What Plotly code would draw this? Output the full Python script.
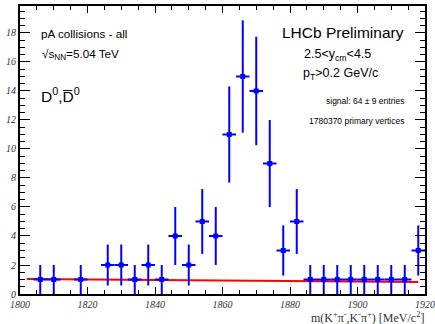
import numpy as np
import plotly.graph_objects as go

# Data
mass = [1806, 1810, 1818, 1826, 1830, 1834, 1838, 1842, 1846, 1850, 1854, 1858,
        1862, 1866, 1870, 1874, 1878, 1882, 1886, 1890, 1894, 1898, 1902, 1906,
        1910, 1914, 1918]
counts = [1, 1, 1, 2, 2, 1, 2, 1, 4, 2, 5, 4,
          11, 15, 14, 9, 3, 5, 1, 1, 1, 1, 1, 1,
          1, 1, 3]
bin_half_width = 2
fit_x = [1802, 1918]
fit_y = [1.03, 0.82]

yerr = [float(np.sqrt(c)) for c in counts]

W, H = 435, 324
L, R, T, B = 20, 10, 6, 30
pw, ph = W - L - R, H - T - B

def px(x):
    return (x - L) / pw

def py(y):
    return 1 - (y - T) / ph

fig = go.Figure()
fig.add_trace(go.Scatter(x=fit_x, y=fit_y, mode="lines",
                         line=dict(color="#ff0000", width=2), showlegend=False))
fig.add_trace(go.Scatter(
    x=mass, y=counts, mode="markers",
    marker=dict(symbol="square", size=5, color="#0000ff"),
    error_y=dict(type="data", array=yerr, color="#0000ff", thickness=2, width=0),
    error_x=dict(type="constant", value=bin_half_width, color="#0000ff", thickness=2, width=0),
    showlegend=False))

tickfont = dict(family="Liberation Serif", size=10, style="italic", color="#333333")

fig.update_xaxes(range=[1800, 1920], showgrid=False, zeroline=False, automargin=False,
                 showline=True, linecolor="black", linewidth=2, mirror="ticks",
                 ticks="inside", ticklen=7, tickwidth=1, tickcolor="black",
                 tick0=1800, dtick=20, tickfont=tickfont, ticklabeloverflow="allow",
                 ticklabelstandoff=0,
                 minor=dict(ticks="inside", ticklen=4, dtick=5, tickcolor="black", showgrid=False))
fig.update_yaxes(range=[0, 19.86], showgrid=False, zeroline=False, automargin=False,
                 showline=True, linecolor="black", linewidth=2, mirror="ticks",
                 ticks="inside", ticklen=10, tickwidth=1, tickcolor="black",
                 tick0=0, dtick=2, tickfont=tickfont,
                 minor=dict(ticks="inside", ticklen=5, dtick=0.5, tickcolor="black", showgrid=False))

sans = "Liberation Sans"
ann = []
def add(text, x, y, size, xanchor="left", family=sans, color="black"):
    ann.append(dict(text=text, x=px(x), y=py(y), xref="paper", yref="paper",
                    xanchor=xanchor, yanchor="middle", showarrow=False,
                    font=dict(family=family, size=size, color=color)))

add("pA collisions - all", 39, 33, 11.7)
add("√s<sub>NN</sub>=5.04 TeV", 40, 55, 11.7)
add("D<sup>0</sup>,D\u0305<sup>0</sup>", 39, 95, 15.5)
add("LHCb Preliminary", 406, 32, 15.5, xanchor="right")
add("2.5<y<sub>cm</sub><4.5", 302, 55, 12.5)
add("p<sub>T</sub>>0.2 GeV/c", 301, 74, 12.5)
add("signal: 64 ± 9 entries", 406, 101, 8.5, xanchor="right")
add("1780370 primary vertices", 406, 121, 8.5, xanchor="right")
add("m(K<sup>+</sup>π<sup>-</sup>,K<sup>-</sup>π<sup>+</sup>) [MeV/c<sup>2</sup>]",
    426, 317, 12, xanchor="right", family="Liberation Serif", color="#333333")

fig.update_layout(width=W, height=H, margin=dict(l=L, r=R, t=T, b=B),
                  paper_bgcolor="white", plot_bgcolor="white",
                  annotations=ann)

fig.write_html("out.html")
